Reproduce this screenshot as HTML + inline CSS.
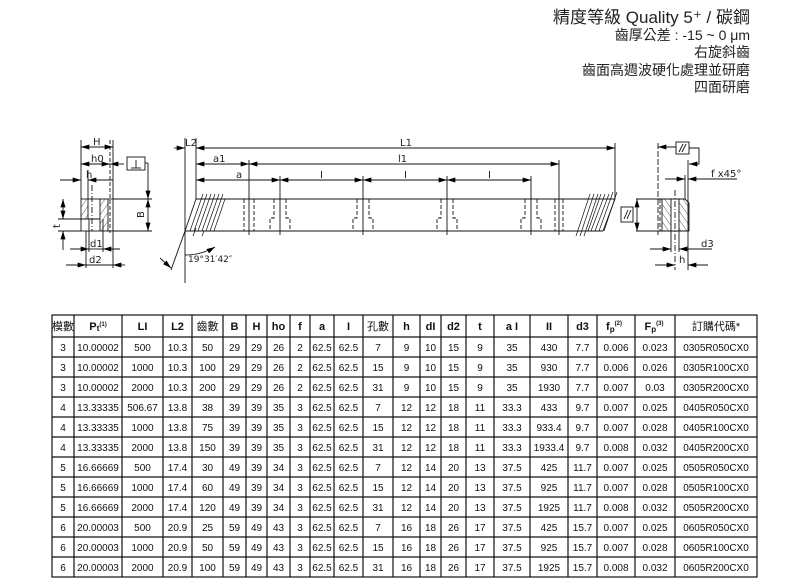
<!DOCTYPE html>
<html><head><meta charset="utf-8"><style>
html,body{margin:0;padding:0;background:#fff;}
body{width:804px;height:583px;overflow:hidden;position:relative;font-family:"Liberation Sans","Noto Sans CJK TC",sans-serif;}
svg{position:absolute;left:0;top:0;}
</style></head><body>
<svg width="804" height="583" viewBox="0 0 804 583" xmlns="http://www.w3.org/2000/svg">
<defs>
<marker id="ar" viewBox="0 0 10 6" refX="10" refY="3" markerWidth="9" markerHeight="5" orient="auto-start-reverse" markerUnits="userSpaceOnUse"><path d="M0,0 L10,3 L0,6 z" fill="#000"/></marker>
<pattern id="hat" width="5" height="5" patternUnits="userSpaceOnUse" patternTransform="rotate(35)"><line x1="0" y1="0" x2="0" y2="5" stroke="#333" stroke-width="0.8"/></pattern>
<pattern id="hat2" width="5" height="5" patternUnits="userSpaceOnUse" patternTransform="rotate(-35)"><line x1="0" y1="0" x2="0" y2="5" stroke="#333" stroke-width="0.8"/></pattern>
</defs>
<g font-family="'Liberation Sans','Noto Sans CJK TC',sans-serif" fill="#222" text-anchor="end">
<text x="750" y="23" font-size="17">精度等級 Quality 5⁺ / 碳鋼</text>
<text x="750" y="40" font-size="14">齒厚公差 : -15 ~ 0 μm</text>
<text x="750" y="57" font-size="14">右旋斜齒</text>
<text x="750" y="75" font-size="14">齒面高週波硬化處理並研磨</text>
<text x="750" y="92" font-size="14">四面研磨</text>
</g>
<g stroke="#111" stroke-width="0.9" fill="none" font-family="'DejaVu Sans',sans-serif">
<rect x="81" y="199" width="32" height="32"/>
<rect x="81.5" y="199.5" width="7" height="19" fill="url(#hat)" stroke="none"/>
<rect x="100" y="199.5" width="8" height="31" fill="url(#hat)" stroke="none"/>
<line x1="88" y1="199" x2="88" y2="219"/><line x1="100" y1="199" x2="100" y2="231"/><line x1="108" y1="199" x2="108" y2="231"/>
<line x1="81" y1="219" x2="100" y2="219"/>
<line x1="110" y1="140" x2="110" y2="233" stroke-dasharray="4,2"/>
<line x1="92" y1="185" x2="92" y2="231" stroke-dasharray="6,2,1,2"/>
<line x1="89" y1="219" x2="89" y2="252"/><line x1="103" y1="219" x2="103" y2="252"/>
<line x1="86" y1="231" x2="86" y2="268"/><line x1="113" y1="231" x2="113" y2="268"/>
<line x1="81" y1="140" x2="81" y2="199"/><line x1="113" y1="140" x2="113" y2="199"/>
<line x1="81" y1="147" x2="113" y2="147" marker-start="url(#ar)" marker-end="url(#ar)"/>
<line x1="81" y1="164" x2="110" y2="164" marker-start="url(#ar)" marker-end="url(#ar)"/>
<line x1="110" y1="164" x2="124" y2="164" marker-start="url(#ar)"/>
<line x1="60" y1="180" x2="81" y2="180" marker-end="url(#ar)"/>
<line x1="88" y1="180" x2="113" y2="180" marker-start="url(#ar)"/>
<line x1="88" y1="170" x2="88" y2="199"/>
<rect x="127" y="157" width="18" height="13"/>
<line x1="136" y1="160" x2="136" y2="168"/><line x1="131" y1="168" x2="141" y2="168"/>
<line x1="145" y1="163" x2="148" y2="163"/><line x1="148" y1="163" x2="148" y2="199" marker-end="url(#ar)"/>
<line x1="113" y1="199" x2="152" y2="199"/><line x1="113" y1="231" x2="152" y2="231"/>
<line x1="148" y1="199" x2="148" y2="231" marker-start="url(#ar)" marker-end="url(#ar)"/>
<line x1="58" y1="219" x2="81" y2="219"/><line x1="58" y1="231" x2="81" y2="231"/>
<line x1="63" y1="199" x2="63" y2="219" marker-start="url(#ar)" marker-end="url(#ar)"/>
<line x1="63" y1="231" x2="63" y2="250" marker-start="url(#ar)"/>
<line x1="70" y1="249" x2="89" y2="249" marker-end="url(#ar)"/><line x1="103" y1="249" x2="120" y2="249" marker-start="url(#ar)"/>
<line x1="66" y1="265" x2="86" y2="265" marker-end="url(#ar)"/><line x1="113" y1="265" x2="125" y2="265" marker-start="url(#ar)"/>
<line x1="86" y1="265" x2="113" y2="265"/><line x1="89" y1="249" x2="103" y2="249"/>
<line x1="196" y1="199" x2="615" y2="199"/><line x1="185" y1="231" x2="603" y2="231"/>
<line x1="185" y1="231" x2="196" y2="199"/><line x1="603" y1="231" x2="615" y2="199"/>
<g stroke-width="0.7">
<line x1="190" y1="231" x2="203" y2="194"/><line x1="194" y1="231" x2="207" y2="194"/><line x1="198" y1="231" x2="211" y2="194"/><line x1="202" y1="231" x2="215" y2="194"/><line x1="206" y1="231" x2="219" y2="194"/><line x1="210" y1="231" x2="223" y2="194"/><line x1="214" y1="231" x2="225" y2="199"/><line x1="193" y1="236" x2="196" y2="228"/><line x1="202" y1="236" x2="204" y2="231"/>
<line x1="576" y1="236" x2="590" y2="194"/><line x1="580" y1="236" x2="594" y2="194"/><line x1="584" y1="236" x2="598" y2="194"/><line x1="588" y1="231" x2="601" y2="194"/><line x1="591" y1="231" x2="605" y2="194"/><line x1="595" y1="231" x2="609" y2="194"/><line x1="599" y1="231" x2="613" y2="192"/><line x1="604" y1="231" x2="617" y2="192"/>
</g>
<line x1="185" y1="138" x2="185" y2="283"/><line x1="196" y1="138" x2="196" y2="199"/>
<line x1="615" y1="143" x2="615" y2="199"/>
<line x1="174" y1="148" x2="185" y2="148" marker-end="url(#ar)"/>
<line x1="196" y1="148" x2="615" y2="148" marker-start="url(#ar)" marker-end="url(#ar)"/>
<line x1="196" y1="164" x2="249" y2="164" marker-start="url(#ar)" marker-end="url(#ar)"/>
<line x1="249" y1="164" x2="559" y2="164" marker-start="url(#ar)" marker-end="url(#ar)"/>
<line x1="196" y1="180" x2="249" y2="180" marker-start="url(#ar)"/>
<line x1="249" y1="180" x2="280" y2="180" marker-end="url(#ar)"/>
<line x1="280" y1="180" x2="363" y2="180" marker-start="url(#ar)" marker-end="url(#ar)"/>
<line x1="363" y1="180" x2="447" y2="180" marker-start="url(#ar)" marker-end="url(#ar)"/>
<line x1="447" y1="180" x2="531" y2="180" marker-start="url(#ar)" marker-end="url(#ar)"/>
<line x1="249" y1="160" x2="249" y2="235"/><line x1="559" y1="160" x2="559" y2="235"/>
<g stroke-dasharray="4,2"><line x1="244" y1="199" x2="244" y2="231"/><line x1="254" y1="199" x2="254" y2="231"/><line x1="555" y1="199" x2="555" y2="231"/><line x1="563" y1="199" x2="563" y2="231"/></g>
<g id="hole">
<line x1="280" y1="176" x2="280" y2="235"/>
<path d="M274,199 V218 H270 V231 M286,199 V218 H290 V231" stroke-dasharray="4,2"/>
</g>
<use href="#hole" x="83"/><use href="#hole" x="167"/><use href="#hole" x="251"/>
<path d="M185,255 A60,60 0 0 0 215,247" marker-end="url(#ar)"/>
<line x1="185" y1="231" x2="171" y2="270"/>
<line x1="160" y1="258" x2="171" y2="268" marker-end="url(#ar)"/>
<line x1="636" y1="199" x2="685" y2="199"/><line x1="636" y1="231" x2="689" y2="231"/>
<line x1="689" y1="203" x2="689" y2="231"/><line x1="685" y1="199" x2="689" y2="203"/>
<rect x="662" y="199.5" width="9" height="31" fill="url(#hat2)" stroke="none"/>
<rect x="679" y="199.5" width="9" height="31" fill="url(#hat2)" stroke="none"/>
<line x1="662" y1="199" x2="662" y2="231"/><line x1="671" y1="199" x2="671" y2="252"/><line x1="679" y1="199" x2="679" y2="252"/>
<line x1="658" y1="143" x2="658" y2="235" stroke-dasharray="6,2"/>
<line x1="660" y1="199" x2="660" y2="231" stroke-dasharray="4,2"/>
<line x1="675" y1="190" x2="675" y2="270" stroke-dasharray="6,2,1,2"/>
<line x1="685" y1="175" x2="685" y2="199"/><line x1="688" y1="160" x2="688" y2="270"/>
<line x1="637" y1="199" x2="637" y2="231" marker-start="url(#ar)" marker-end="url(#ar)"/>
<rect x="621" y="207" width="12" height="15"/><line x1="624" y1="219" x2="628" y2="210"/><line x1="627" y1="219" x2="631" y2="210"/>
<rect x="676" y="142" width="13" height="12"/><line x1="679" y1="152" x2="683" y2="144"/><line x1="682" y1="152" x2="686" y2="144"/>
<line x1="676" y1="147" x2="658" y2="147" marker-end="url(#ar)"/>
<path d="M689,148 H699 V164 H689" marker-end="url(#ar)"/>
<line x1="665" y1="179" x2="685" y2="179" marker-end="url(#ar)"/>
<line x1="737" y1="179" x2="688" y2="179" marker-end="url(#ar)"/>
<line x1="650" y1="249" x2="671" y2="249" marker-end="url(#ar)"/><line x1="712" y1="249" x2="679" y2="249" marker-end="url(#ar)"/>
<line x1="655" y1="265" x2="675" y2="265" marker-end="url(#ar)"/><line x1="708" y1="265" x2="688" y2="265" marker-end="url(#ar)"/>
</g>
<g font-family="'DejaVu Sans',sans-serif" font-size="10" fill="#222" stroke="none">
<text x="93" y="145">H</text><text x="91" y="162">h0</text><text x="86" y="178">h</text>
<text x="144" y="218" transform="rotate(-90 144 218)">B</text>
<text x="60" y="228" transform="rotate(-90 60 228)">t</text>
<text x="90" y="247">d1</text><text x="89" y="263">d2</text>
<text x="185" y="146">L2</text><text x="400" y="146">L1</text>
<text x="213" y="162">a1</text><text x="398" y="162">l1</text>
<text x="236" y="178">a</text><text x="320" y="178">I</text><text x="404" y="178">I</text><text x="488" y="178">I</text>
<text x="188" y="262" font-size="9">19°31′42″</text>
<text x="711" y="177">f x45°</text>
<text x="701" y="247">d3</text><text x="679" y="263">h</text>
</g>
<g stroke="#111" stroke-width="1.2" fill="none">
<rect x="52" y="315" width="705" height="262"/>
<g>
<line x1="74" y1="315" x2="74" y2="577"/><line x1="122" y1="315" x2="122" y2="577"/><line x1="163" y1="315" x2="163" y2="577"/><line x1="192" y1="315" x2="192" y2="577"/><line x1="223" y1="315" x2="223" y2="577"/><line x1="246" y1="315" x2="246" y2="577"/><line x1="267" y1="315" x2="267" y2="577"/><line x1="290" y1="315" x2="290" y2="577"/><line x1="310" y1="315" x2="310" y2="577"/><line x1="334" y1="315" x2="334" y2="577"/><line x1="363" y1="315" x2="363" y2="577"/><line x1="393" y1="315" x2="393" y2="577"/><line x1="420" y1="315" x2="420" y2="577"/><line x1="441" y1="315" x2="441" y2="577"/><line x1="466" y1="315" x2="466" y2="577"/><line x1="494" y1="315" x2="494" y2="577"/><line x1="530" y1="315" x2="530" y2="577"/><line x1="568" y1="315" x2="568" y2="577"/><line x1="597" y1="315" x2="597" y2="577"/><line x1="635" y1="315" x2="635" y2="577"/><line x1="675" y1="315" x2="675" y2="577"/>
</g>
<line x1="52" y1="337" x2="757" y2="337"/><line x1="52" y1="357" x2="757" y2="357"/><line x1="52" y1="377" x2="757" y2="377"/><line x1="52" y1="397" x2="757" y2="397"/><line x1="52" y1="417" x2="757" y2="417"/><line x1="52" y1="437" x2="757" y2="437"/><line x1="52" y1="457" x2="757" y2="457"/><line x1="52" y1="477" x2="757" y2="477"/><line x1="52" y1="497" x2="757" y2="497"/><line x1="52" y1="517" x2="757" y2="517"/><line x1="52" y1="537" x2="757" y2="537"/><line x1="52" y1="557" x2="757" y2="557"/>
</g>
<g font-family="'Liberation Sans','Noto Sans CJK TC',sans-serif" font-size="11" fill="#111" text-anchor="middle" font-weight="bold">
<text x="63" y="330" font-weight="normal">模數</text><text x="98" y="330">P<tspan font-size="8.5" dy="1">t</tspan><tspan font-size="6" dy="-5">(1)</tspan></text><text x="142.5" y="330">LI</text><text x="177.5" y="330">L2</text><text x="207.5" y="330" font-weight="normal">齒數</text><text x="234.5" y="330">B</text><text x="256.5" y="330">H</text><text x="278.5" y="330">ho</text><text x="300" y="330">f</text><text x="322" y="330">a</text><text x="348.5" y="330">I</text><text x="378" y="330" font-weight="normal">孔數</text><text x="406.5" y="330">h</text><text x="430.5" y="330">dI</text><text x="453.5" y="330">d2</text><text x="480" y="330">t</text><text x="512" y="330">a I</text><text x="549" y="330">II</text><text x="582.5" y="330">d3</text><text x="614" y="330">f<tspan font-size="8" dy="2">p</tspan><tspan font-size="6" dy="-7">(2)</tspan></text><text x="654" y="330">F<tspan font-size="8" dy="2">p</tspan><tspan font-size="6" dy="-7">(3)</tspan></text><text x="716" y="330" font-weight="normal">訂購代碼*</text>
</g>
<g font-family="'Liberation Sans',sans-serif" font-size="10" fill="#111" text-anchor="middle">
<text y="351"><tspan x="63">3</tspan><tspan x="98">10.00002</tspan><tspan x="142.5">500</tspan><tspan x="177.5">10.3</tspan><tspan x="207.5">50</tspan><tspan x="234.5">29</tspan><tspan x="256.5">29</tspan><tspan x="278.5">26</tspan><tspan x="300">2</tspan><tspan x="322">62.5</tspan><tspan x="348.5">62.5</tspan><tspan x="378">7</tspan><tspan x="406.5">9</tspan><tspan x="430.5">10</tspan><tspan x="453.5">15</tspan><tspan x="480">9</tspan><tspan x="512">35</tspan><tspan x="549">430</tspan><tspan x="582.5">7.7</tspan><tspan x="616">0.006</tspan><tspan x="655">0.023</tspan><tspan x="716">0305R050CX0</tspan></text>
<text y="371"><tspan x="63">3</tspan><tspan x="98">10.00002</tspan><tspan x="142.5">1000</tspan><tspan x="177.5">10.3</tspan><tspan x="207.5">100</tspan><tspan x="234.5">29</tspan><tspan x="256.5">29</tspan><tspan x="278.5">26</tspan><tspan x="300">2</tspan><tspan x="322">62.5</tspan><tspan x="348.5">62.5</tspan><tspan x="378">15</tspan><tspan x="406.5">9</tspan><tspan x="430.5">10</tspan><tspan x="453.5">15</tspan><tspan x="480">9</tspan><tspan x="512">35</tspan><tspan x="549">930</tspan><tspan x="582.5">7.7</tspan><tspan x="616">0.006</tspan><tspan x="655">0.026</tspan><tspan x="716">0305R100CX0</tspan></text>
<text y="391"><tspan x="63">3</tspan><tspan x="98">10.00002</tspan><tspan x="142.5">2000</tspan><tspan x="177.5">10.3</tspan><tspan x="207.5">200</tspan><tspan x="234.5">29</tspan><tspan x="256.5">29</tspan><tspan x="278.5">26</tspan><tspan x="300">2</tspan><tspan x="322">62.5</tspan><tspan x="348.5">62.5</tspan><tspan x="378">31</tspan><tspan x="406.5">9</tspan><tspan x="430.5">10</tspan><tspan x="453.5">15</tspan><tspan x="480">9</tspan><tspan x="512">35</tspan><tspan x="549">1930</tspan><tspan x="582.5">7.7</tspan><tspan x="616">0.007</tspan><tspan x="655">0.03</tspan><tspan x="716">0305R200CX0</tspan></text>
<text y="411"><tspan x="63">4</tspan><tspan x="98">13.33335</tspan><tspan x="142.5">506.67</tspan><tspan x="177.5">13.8</tspan><tspan x="207.5">38</tspan><tspan x="234.5">39</tspan><tspan x="256.5">39</tspan><tspan x="278.5">35</tspan><tspan x="300">3</tspan><tspan x="322">62.5</tspan><tspan x="348.5">62.5</tspan><tspan x="378">7</tspan><tspan x="406.5">12</tspan><tspan x="430.5">12</tspan><tspan x="453.5">18</tspan><tspan x="480">11</tspan><tspan x="512">33.3</tspan><tspan x="549">433</tspan><tspan x="582.5">9.7</tspan><tspan x="616">0.007</tspan><tspan x="655">0.025</tspan><tspan x="716">0405R050CX0</tspan></text>
<text y="431"><tspan x="63">4</tspan><tspan x="98">13.33335</tspan><tspan x="142.5">1000</tspan><tspan x="177.5">13.8</tspan><tspan x="207.5">75</tspan><tspan x="234.5">39</tspan><tspan x="256.5">39</tspan><tspan x="278.5">35</tspan><tspan x="300">3</tspan><tspan x="322">62.5</tspan><tspan x="348.5">62.5</tspan><tspan x="378">15</tspan><tspan x="406.5">12</tspan><tspan x="430.5">12</tspan><tspan x="453.5">18</tspan><tspan x="480">11</tspan><tspan x="512">33.3</tspan><tspan x="549">933.4</tspan><tspan x="582.5">9.7</tspan><tspan x="616">0.007</tspan><tspan x="655">0.028</tspan><tspan x="716">0405R100CX0</tspan></text>
<text y="451"><tspan x="63">4</tspan><tspan x="98">13.33335</tspan><tspan x="142.5">2000</tspan><tspan x="177.5">13.8</tspan><tspan x="207.5">150</tspan><tspan x="234.5">39</tspan><tspan x="256.5">39</tspan><tspan x="278.5">35</tspan><tspan x="300">3</tspan><tspan x="322">62.5</tspan><tspan x="348.5">62.5</tspan><tspan x="378">31</tspan><tspan x="406.5">12</tspan><tspan x="430.5">12</tspan><tspan x="453.5">18</tspan><tspan x="480">11</tspan><tspan x="512">33.3</tspan><tspan x="549">1933.4</tspan><tspan x="582.5">9.7</tspan><tspan x="616">0.008</tspan><tspan x="655">0.032</tspan><tspan x="716">0405R200CX0</tspan></text>
<text y="471"><tspan x="63">5</tspan><tspan x="98">16.66669</tspan><tspan x="142.5">500</tspan><tspan x="177.5">17.4</tspan><tspan x="207.5">30</tspan><tspan x="234.5">49</tspan><tspan x="256.5">39</tspan><tspan x="278.5">34</tspan><tspan x="300">3</tspan><tspan x="322">62.5</tspan><tspan x="348.5">62.5</tspan><tspan x="378">7</tspan><tspan x="406.5">12</tspan><tspan x="430.5">14</tspan><tspan x="453.5">20</tspan><tspan x="480">13</tspan><tspan x="512">37.5</tspan><tspan x="549">425</tspan><tspan x="582.5">11.7</tspan><tspan x="616">0.007</tspan><tspan x="655">0.025</tspan><tspan x="716">0505R050CX0</tspan></text>
<text y="491"><tspan x="63">5</tspan><tspan x="98">16.66669</tspan><tspan x="142.5">1000</tspan><tspan x="177.5">17.4</tspan><tspan x="207.5">60</tspan><tspan x="234.5">49</tspan><tspan x="256.5">39</tspan><tspan x="278.5">34</tspan><tspan x="300">3</tspan><tspan x="322">62.5</tspan><tspan x="348.5">62.5</tspan><tspan x="378">15</tspan><tspan x="406.5">12</tspan><tspan x="430.5">14</tspan><tspan x="453.5">20</tspan><tspan x="480">13</tspan><tspan x="512">37.5</tspan><tspan x="549">925</tspan><tspan x="582.5">11.7</tspan><tspan x="616">0.007</tspan><tspan x="655">0.028</tspan><tspan x="716">0505R100CX0</tspan></text>
<text y="511"><tspan x="63">5</tspan><tspan x="98">16.66669</tspan><tspan x="142.5">2000</tspan><tspan x="177.5">17.4</tspan><tspan x="207.5">120</tspan><tspan x="234.5">49</tspan><tspan x="256.5">39</tspan><tspan x="278.5">34</tspan><tspan x="300">3</tspan><tspan x="322">62.5</tspan><tspan x="348.5">62.5</tspan><tspan x="378">31</tspan><tspan x="406.5">12</tspan><tspan x="430.5">14</tspan><tspan x="453.5">20</tspan><tspan x="480">13</tspan><tspan x="512">37.5</tspan><tspan x="549">1925</tspan><tspan x="582.5">11.7</tspan><tspan x="616">0.008</tspan><tspan x="655">0.032</tspan><tspan x="716">0505R200CX0</tspan></text>
<text y="531"><tspan x="63">6</tspan><tspan x="98">20.00003</tspan><tspan x="142.5">500</tspan><tspan x="177.5">20.9</tspan><tspan x="207.5">25</tspan><tspan x="234.5">59</tspan><tspan x="256.5">49</tspan><tspan x="278.5">43</tspan><tspan x="300">3</tspan><tspan x="322">62.5</tspan><tspan x="348.5">62.5</tspan><tspan x="378">7</tspan><tspan x="406.5">16</tspan><tspan x="430.5">18</tspan><tspan x="453.5">26</tspan><tspan x="480">17</tspan><tspan x="512">37.5</tspan><tspan x="549">425</tspan><tspan x="582.5">15.7</tspan><tspan x="616">0.007</tspan><tspan x="655">0.025</tspan><tspan x="716">0605R050CX0</tspan></text>
<text y="551"><tspan x="63">6</tspan><tspan x="98">20.00003</tspan><tspan x="142.5">1000</tspan><tspan x="177.5">20.9</tspan><tspan x="207.5">50</tspan><tspan x="234.5">59</tspan><tspan x="256.5">49</tspan><tspan x="278.5">43</tspan><tspan x="300">3</tspan><tspan x="322">62.5</tspan><tspan x="348.5">62.5</tspan><tspan x="378">15</tspan><tspan x="406.5">16</tspan><tspan x="430.5">18</tspan><tspan x="453.5">26</tspan><tspan x="480">17</tspan><tspan x="512">37.5</tspan><tspan x="549">925</tspan><tspan x="582.5">15.7</tspan><tspan x="616">0.007</tspan><tspan x="655">0.028</tspan><tspan x="716">0605R100CX0</tspan></text>
<text y="571"><tspan x="63">6</tspan><tspan x="98">20.00003</tspan><tspan x="142.5">2000</tspan><tspan x="177.5">20.9</tspan><tspan x="207.5">100</tspan><tspan x="234.5">59</tspan><tspan x="256.5">49</tspan><tspan x="278.5">43</tspan><tspan x="300">3</tspan><tspan x="322">62.5</tspan><tspan x="348.5">62.5</tspan><tspan x="378">31</tspan><tspan x="406.5">16</tspan><tspan x="430.5">18</tspan><tspan x="453.5">26</tspan><tspan x="480">17</tspan><tspan x="512">37.5</tspan><tspan x="549">1925</tspan><tspan x="582.5">15.7</tspan><tspan x="616">0.008</tspan><tspan x="655">0.032</tspan><tspan x="716">0605R200CX0</tspan></text>
</g>
</svg>
</body></html>
